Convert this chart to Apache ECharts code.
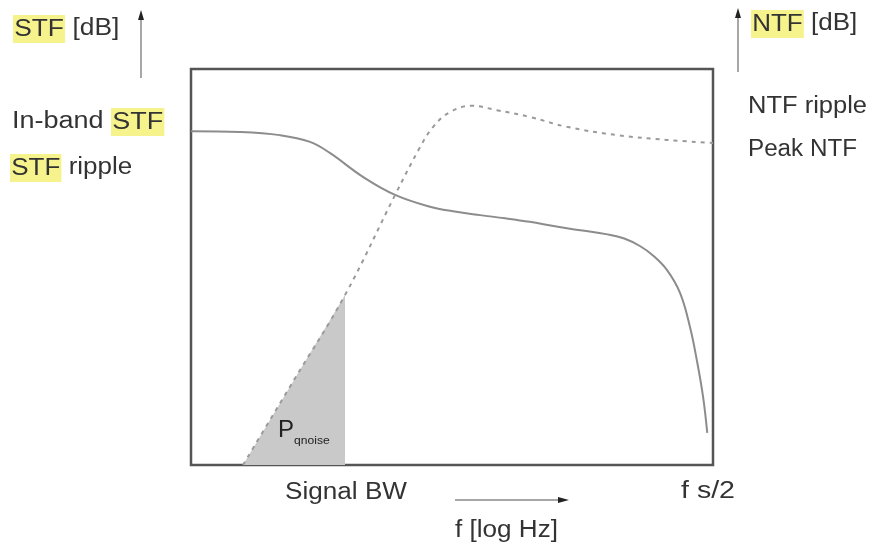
<!DOCTYPE html>
<html>
<head>
<meta charset="utf-8">
<script src="https://cdn.jsdelivr.net/npm/echarts@6/dist/echarts.min.js"></script>
<style>html,body{margin:0;padding:0;background:#fff}#c{width:869px;height:546px}</style>
</head>
<body>
<div id="c"></div>
<script>
// ---- data (schematic, normalised 0..100 on both axes) ----
var stfX = [0, 9.4, 17.0, 22.8, 26.6, 33.0, 39.1, 45.8, 50.5, 55.4, 60.2, 64.9, 70.0, 75.0, 79.5, 83.0, 86.0, 88.5, 91.2, 93.7, 95.6, 96.9, 98.1, 98.9];
var stfY = [84.3, 84.1, 83.3, 81.6, 78.8, 72.7, 68.2, 65.2, 64.0, 63.1, 62.3, 61.4, 60.2, 59.2, 58.3, 57.2, 55.3, 52.9, 49.2, 43.4, 34.8, 26.5, 17.2, 8.1];
var ntfX = [9.96, 19.7, 29.5, 39.1, 43.9, 46.4, 49.6, 53.8, 58.6, 64.9, 72.0, 81.6, 91.2, 100];
var ntfY = [0, 21.4, 42.9, 68.2, 80.3, 85.4, 89.1, 90.7, 89.6, 87.9, 85.4, 83.3, 82.1, 81.3];
var noiseIdx = [0, 1, 2]; // NTF points bounding the in-band quantisation noise
var leftLabels = ['In-band STF', 'STF ripple'];
var rightLabels = ['NTF ripple', 'Peak NTF'];
var bottomLabels = ['Signal BW', 'f s/2'];
var xAxisLabel = 'f [log Hz]';

function pairs(xs, ys) { return xs.map(function (x, i) { return [x, ys[i]]; }); }

var chart = echarts.init(document.getElementById('c'), null, { renderer: 'canvas' });
var FONT = '"Liberation Sans", Arial, sans-serif';
var TXT = '#333';
var HL = '#f6f28c';
var ctx = document.createElement('canvas').getContext('2d');
function fit(plain, size, width) {
  ctx.font = size + 'px ' + FONT;
  return width / ctx.measureText(plain).width;
}
function label(plain, richStr, x, y, size, width) {
  return {
    type: 'text', x: x, y: y, z: 100, scaleX: fit(plain, size, width),
    style: {
      text: richStr, x: 0, y: 0, fill: TXT, font: size + 'px ' + FONT,
      verticalAlign: 'middle', align: 'left',
      rich: { h: { backgroundColor: HL, fill: TXT, fontSize: size, fontFamily: FONT, padding: [3, 1, 2, 1] } }
    }
  };
}
function arrowV(x, y0, y1) {
  return [
    { type: 'line', z: 100, shape: { x1: x, y1: y0, x2: x, y2: y1 + 8 }, style: { stroke: '#8a8a8a', lineWidth: 1.5 } },
    { type: 'polygon', z: 100, shape: { points: [[x, y1], [x - 3, y1 + 10], [x + 3, y1 + 10]] }, style: { fill: '#222' } }
  ];
}
function arrowH(y, x0, x1) {
  return [
    { type: 'line', z: 100, shape: { x1: x0, y1: y, x2: x1 - 8, y2: y }, style: { stroke: '#8a8a8a', lineWidth: 1.5 } },
    { type: 'polygon', z: 100, shape: { points: [[x1, y], [x1 - 11, y - 3], [x1 - 11, y + 3]] }, style: { fill: '#222' } }
  ];
}

var graphics = [
  label('STF [dB]', '{h|STF} [dB]', 13, 29, 23, 104),
  label(leftLabels[0], 'In-band {h|STF}', 12, 122, 23, 150),
  label(leftLabels[1], '{h|STF} ripple', 10, 168, 23, 120),
  label('NTF [dB]', '{h|NTF} [dB]', 751, 24, 23, 104),
  label(rightLabels[0], rightLabels[0], 748, 107, 23, 119),
  label(rightLabels[1], rightLabels[1], 748, 150, 23, 109),
  label(bottomLabels[0], bottomLabels[0], 285, 493, 23, 122),
  label(bottomLabels[1], bottomLabels[1], 681, 492, 23, 54),
  label(xAxisLabel, xAxisLabel, 455, 531, 23, 103),
  { type: 'text', x: 278, y: 430, z: 100, style: { text: 'P', fill: '#222', font: '24px ' + FONT, verticalAlign: 'middle' } },
  { type: 'text', x: 294, y: 441, z: 100, scaleX: 1.1, style: { text: 'qnoise', fill: '#222', font: '11px ' + FONT, verticalAlign: 'middle' } }
].concat(arrowV(141, 78, 10), arrowV(738, 72, 8), arrowH(500, 455, 569));

chart.setOption({
  animation: false,
  backgroundColor: '#fff',
  grid: { left: 191, top: 69, width: 522, height: 396, show: true, borderColor: '#555', borderWidth: 2.5, backgroundColor: 'transparent' },
  xAxis: { type: 'value', min: 0, max: 100, show: false },
  yAxis: { type: 'value', min: 0, max: 100, show: false },
  series: [
    {
      name: 'Pqnoise', type: 'line', z: 1,
      data: noiseIdx.map(function (i) { return [ntfX[i], ntfY[i]]; }),
      symbol: 'none', lineStyle: { width: 0, opacity: 0 },
      areaStyle: { color: '#c9c9c9', opacity: 1 }
    },
    {
      name: 'STF', type: 'line', z: 3, data: pairs(stfX, stfY),
      symbol: 'none', smooth: 0.4,
      lineStyle: { color: '#8c8c8c', width: 2 }
    },
    {
      name: 'NTF', type: 'line', z: 3, data: pairs(ntfX, ntfY),
      symbol: 'none', smooth: 0.4,
      lineStyle: { color: '#9a9a9a', width: 2, type: [4, 5] }
    }
  ],
  graphic: graphics
});
</script>
</body>
</html>
